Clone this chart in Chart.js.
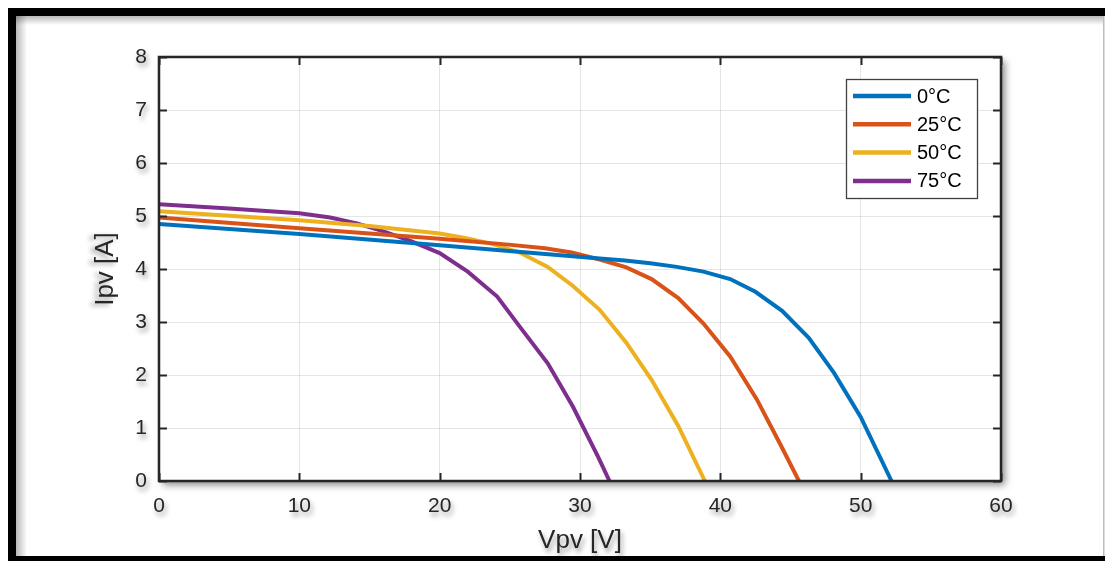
<!DOCTYPE html>
<html>
<head>
<meta charset="utf-8">
<script src="https://cdn.jsdelivr.net/npm/chart.js@4.4.1/dist/chart.umd.min.js"></script>
<style>
  html, body { margin: 0; padding: 0; background: #fff; }
  canvas { display: block; }
</style>
</head>
<body>
<canvas id="chart" width="1105" height="561"></canvas>
<script>
// I-V curves of the PV panel at four temperatures
const seriesLabels = ["0°C", "25°C", "50°C", "75°C"];
const seriesColors = ["#0072BD", "#D95319", "#EDB120", "#7E2F8E"];

const v0 = [0, 10, 20, 28.6, 31.4, 33.2, 35.0, 36.9, 38.8, 40.7, 42.5, 44.4, 46.3, 48.1, 50.0, 52.2];
const i0 = [4.85, 4.66, 4.45, 4.26, 4.20, 4.16, 4.11, 4.04, 3.95, 3.81, 3.57, 3.21, 2.70, 2.04, 1.21, 0];

const v25 = [0, 10, 20, 24.9, 27.5, 29.4, 31.4, 33.3, 35.1, 37.0, 38.8, 40.7, 42.6, 44.3, 45.6];
const i25 = [4.97, 4.77, 4.57, 4.46, 4.39, 4.31, 4.18, 4.03, 3.81, 3.45, 2.97, 2.35, 1.54, 0.68, 0];

const v50 = [0, 10, 15, 20, 21.9, 23.8, 25.7, 27.7, 29.5, 31.4, 33.3, 35.1, 37.0, 38.9];
const i50 = [5.09, 4.92, 4.81, 4.67, 4.58, 4.47, 4.31, 4.04, 3.68, 3.23, 2.61, 1.91, 1.04, 0];

const v75 = [0, 5, 10, 12.2, 14.1, 16.0, 18.0, 20.0, 22.0, 24.1, 25.8, 27.7, 29.5, 31.3, 32.1];
const i75 = [5.22, 5.14, 5.05, 4.97, 4.86, 4.71, 4.52, 4.30, 3.95, 3.48, 2.88, 2.22, 1.40, 0.45, 0];

const xTicks = [0, 10, 20, 30, 40, 50, 60];
const yTicks = [0, 1, 2, 3, 4, 5, 6, 7, 8];
const xTitle = "Vpv [V]";
const yTitle = "Ipv [A]";

const FONT = "'Liberation Sans', Arial, Helvetica, sans-serif";
const AXIS = "#262626";

function toPoints(vs, is) {
  return vs.map((v, k) => ({ x: v, y: is[k] }));
}

const allV = [v0, v25, v50, v75];
const allI = [i0, i25, i50, i75];

function textShadow(ctx) {
  ctx.shadowColor = "rgba(0,0,0,0.4)";
  ctx.shadowBlur = 5;
  ctx.shadowOffsetX = 2;
  ctx.shadowOffsetY = 4;
}

// white page, black frame and the drop shadow of the axes box
const framePlugin = {
  id: "frame",
  beforeDraw(chart) {
    const ctx = chart.ctx;
    const W = chart.width, H = chart.height;
    const a = chart.chartArea;
    ctx.save();
    ctx.fillStyle = "#fff";
    ctx.fillRect(0, 0, W, H);

    // soft inner shading next to the thick bars
    let g = ctx.createLinearGradient(0, 16, 0, 25);
    g.addColorStop(0, "rgba(0,0,0,0.28)");
    g.addColorStop(1, "rgba(0,0,0,0)");
    ctx.fillStyle = g;
    ctx.fillRect(16, 16, W - 18, 9);
    g = ctx.createLinearGradient(16, 0, 27, 0);
    g.addColorStop(0, "rgba(0,0,0,0.28)");
    g.addColorStop(1, "rgba(0,0,0,0)");
    ctx.fillStyle = g;
    ctx.fillRect(16, 16, 11, H - 21);

    ctx.fillStyle = "#000";
    ctx.fillRect(8, 8, W - 8, 8);
    ctx.fillRect(8, 8, 8, H - 8);
    ctx.fillRect(8, 556, W - 8, 5);
    ctx.fillStyle = "#bdbdbd";
    ctx.fillRect(1103, 16, 1.5, 540);

    // axes box shadow
    ctx.shadowColor = "rgba(0,0,0,0.45)";
    ctx.shadowBlur = 7;
    ctx.shadowOffsetX = 4;
    ctx.shadowOffsetY = 4;
    ctx.fillStyle = "#fff";
    ctx.fillRect(a.left, a.top, a.right - a.left, a.bottom - a.top);
    ctx.restore();
  }
};

// axes box with inward ticks, legend, then shadowed text
const boxPlugin = {
  id: "box",
  afterDatasetsDraw(chart) {
    const ctx = chart.ctx;
    const a = chart.chartArea;
    const xs = chart.scales.x, ys = chart.scales.y;
    ctx.save();
    ctx.strokeStyle = AXIS;
    ctx.lineWidth = 2;
    ctx.beginPath();
    xs.ticks.forEach(t => {
      const px = Math.round(xs.getPixelForValue(t.value)) + 0.5;
      ctx.moveTo(px, a.bottom); ctx.lineTo(px, a.bottom - 8);
      ctx.moveTo(px, a.top); ctx.lineTo(px, a.top + 8);
    });
    ys.ticks.forEach(t => {
      const py = Math.round(ys.getPixelForValue(t.value)) + 0.5;
      ctx.moveTo(a.left, py); ctx.lineTo(a.left + 8, py);
      ctx.moveTo(a.right, py); ctx.lineTo(a.right - 8, py);
    });
    ctx.stroke();
    ctx.lineWidth = 2.5;
    ctx.strokeRect(a.left, a.top, a.right - a.left, a.bottom - a.top);

    // legend
    const lx = 846, ly = 79, lw = 131, lh = 119;
    ctx.fillStyle = "#fff";
    ctx.fillRect(lx, ly, lw, lh);
    ctx.strokeStyle = "#404040";
    ctx.lineWidth = 1.3;
    ctx.strokeRect(lx + 0.5, ly + 0.5, lw, lh);
    ctx.font = "20px " + FONT;
    ctx.textBaseline = "middle";
    ctx.textAlign = "left";
    chart.data.datasets.forEach((ds, k) => {
      const y = 96 + k * 28.3;
      ctx.strokeStyle = ds.borderColor;
      ctx.lineWidth = 4.5;
      ctx.beginPath();
      ctx.moveTo(853, y); ctx.lineTo(911, y);
      ctx.stroke();
      ctx.fillStyle = "#000";
      ctx.fillText(ds.label, 917, y + 1);
    });
    ctx.restore();

    // tick labels (z = 1) are drawn next, with this shadow
    ctx.save();
    textShadow(ctx);
  },
  afterDraw(chart) {
    const ctx = chart.ctx;
    const a = chart.chartArea;
    ctx.fillStyle = AXIS;
    ctx.font = "26px " + FONT;
    ctx.textAlign = "center";
    ctx.textBaseline = "middle";
    ctx.fillText(xTitle, (a.left + a.right) / 2, 541);
    ctx.save();
    ctx.translate(106, (a.top + a.bottom) / 2);
    ctx.rotate(-Math.PI / 2);
    ctx.shadowOffsetX = -4;
    ctx.shadowOffsetY = 2;
    ctx.fillText(yTitle, 0, 0);
    ctx.restore();
    ctx.restore();
  }
};

const ctx = document.getElementById("chart").getContext("2d");
const ivChart = new Chart(ctx, {
  type: "scatter",
  data: {
    datasets: seriesLabels.map((label, k) => ({
      label: label,
      data: toPoints(allV[k], allI[k]),
      showLine: true,
      borderColor: seriesColors[k],
      backgroundColor: seriesColors[k],
      borderWidth: 4,
      pointRadius: 0,
      tension: 0
    }))
  },
  options: {
    responsive: false,
    animation: false,
    devicePixelRatio: 1,
    layout: { padding: { top: 57, right: 104, left: 0, bottom: 0 } },
    plugins: {
      legend: { display: false },
      tooltip: { enabled: false }
    },
    scales: {
      x: {
        type: "linear",
        min: 0,
        max: 60,
        afterBuildTicks: (s) => { s.ticks = xTicks.map(v => ({ value: v })); },
        afterFit: (s) => { s.height = 80; },
        grid: { color: "rgba(0,0,0,0.1)", lineWidth: 1, drawTicks: false },
        border: { display: false },
        ticks: { z: 1, padding: 13, color: AXIS, font: { family: FONT, size: 21 } }
      },
      y: {
        type: "linear",
        min: 0,
        max: 8,
        afterBuildTicks: (s) => { s.ticks = yTicks.map(v => ({ value: v })); },
        afterFit: (s) => { s.width = 159; },
        grid: { color: "rgba(0,0,0,0.1)", lineWidth: 1, drawTicks: false },
        border: { display: false },
        ticks: { z: 1, padding: 12, color: AXIS, font: { family: FONT, size: 21 } }
      }
    }
  },
  plugins: [framePlugin, boxPlugin]
});
</script>
</body>
</html>
